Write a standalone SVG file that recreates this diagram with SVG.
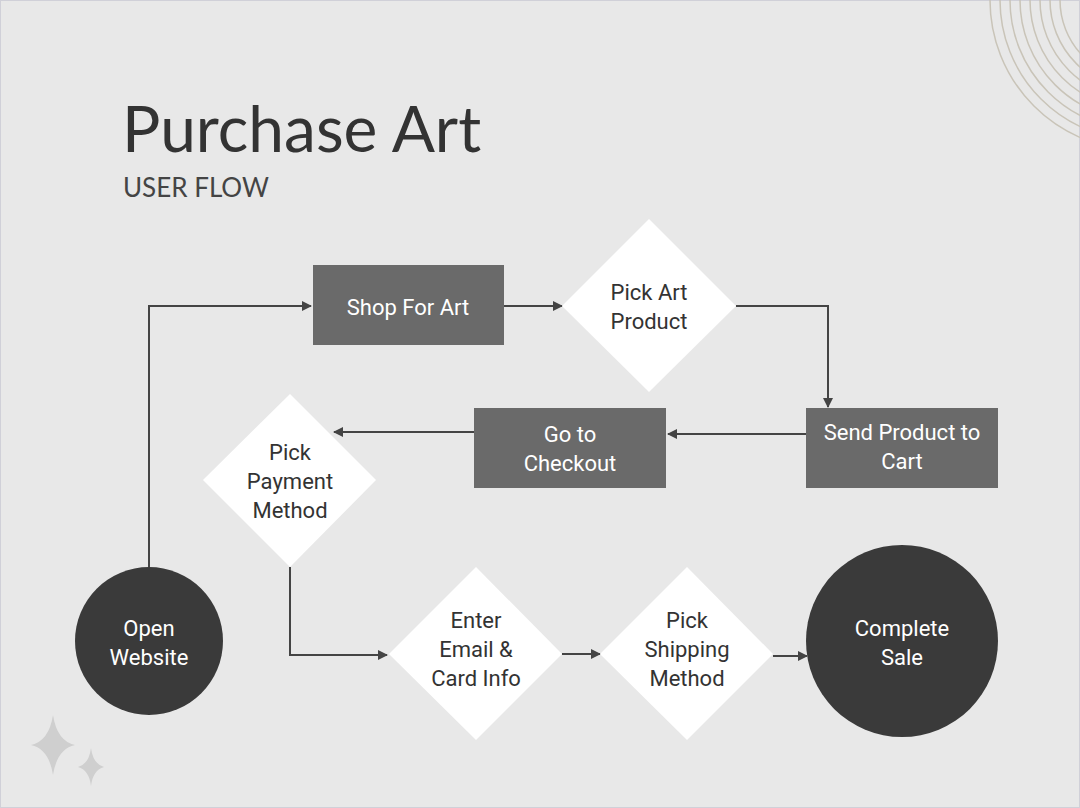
<svg xmlns="http://www.w3.org/2000/svg" width="1080" height="808" viewBox="0 0 1080 808">
<defs>
<style>
.box{fill:#6a6a6a}
.dia{fill:#ffffff}
.circ{fill:#3a3a3a}
.t{font-family:Roboto,"Liberation Sans",sans-serif;font-size:22px;text-anchor:middle}
.w{fill:#ffffff}
.d{fill:#333333}
.c{fill:none;stroke:#444;stroke-width:2}
.arc{fill:none;stroke:#c9c4b8;stroke-width:1.5}
</style>
<marker id="ah" viewBox="0 0 10 10" refX="9" refY="5" markerWidth="5" markerHeight="5" orient="auto"><path d="M0,0L10,5L0,10z" fill="#444"/></marker>
</defs>
<rect width="1080" height="808" fill="#e8e8e8"/>
<rect x="0.5" y="0.5" width="1079" height="807" fill="none" stroke="#d0d0d8"/>
<g id="deco">
<circle cx="1140" cy="0" r="150" class="arc"/>
<circle cx="1140" cy="0" r="140" class="arc"/>
<circle cx="1140" cy="0" r="130" class="arc"/>
<circle cx="1140" cy="0" r="120" class="arc"/>
<circle cx="1140" cy="0" r="110" class="arc"/>
<circle cx="1140" cy="0" r="100" class="arc"/>
<circle cx="1140" cy="0" r="90" class="arc"/>
<circle cx="1140" cy="0" r="80" class="arc"/>
<path d="M53,715 Q57,741 75,745 Q57,749 53,775 Q49,749 31,745 Q49,741 53,715z" fill="#cfcfcf"/>
<path d="M91,748 Q93,764 104,767 Q93,770 91,786 Q89,770 78,767 Q89,764 91,748z" fill="#cfcfcf"/>
</g>
<text x="122" y="152" font-family="Lato,'Liberation Sans',sans-serif" font-size="64" fill="#333">Purchase Art</text>
<text x="123" y="197" font-family="Lato,'Liberation Sans',sans-serif" font-size="26" fill="#444">USER FLOW</text>
<g id="connectors">
<path class="c" d="M149,567V306H311" marker-end="url(#ah)"/>
<path class="c" d="M504,306H562" marker-end="url(#ah)"/>
<path class="c" d="M736,306H828V407" marker-end="url(#ah)"/>
<path class="c" d="M806,434H668" marker-end="url(#ah)"/>
<path class="c" d="M474,432H334" marker-end="url(#ah)"/>
<path class="c" d="M290,567V655H387" marker-end="url(#ah)"/>
<path class="c" d="M562,654H600" marker-end="url(#ah)"/>
<path class="c" d="M773,656H807" marker-end="url(#ah)"/>
</g>
<g id="open"><circle cx="149" cy="641" r="74" class="circ"/><text class="t w" x="149" y="636">Open</text><text class="t w" x="149" y="665">Website</text></g>
<g id="shop"><rect x="313" y="265" width="191" height="80" class="box"/><text class="t w" x="408" y="315">Shop For Art</text></g>
<g id="pickart"><polygon points="649,219 736,306 649,392 562,306" class="dia"/><text class="t d" x="649" y="300">Pick Art</text><text class="t d" x="649" y="329">Product</text></g>
<g id="send"><rect x="806" y="408" width="192" height="80" class="box"/><text class="t w" x="902" y="440">Send Product to</text><text class="t w" x="902" y="469">Cart</text></g>
<g id="checkout"><rect x="474" y="408" width="192" height="80" class="box"/><text class="t w" x="570" y="442">Go to</text><text class="t w" x="570" y="471">Checkout</text></g>
<g id="payment"><polygon points="290,394 376,480 290,567 203,480" class="dia"/><text class="t d" x="290" y="460">Pick</text><text class="t d" x="290" y="489">Payment</text><text class="t d" x="290" y="518">Method</text></g>
<g id="email"><polygon points="476,567 562,654 476,740 389,654" class="dia"/><text class="t d" x="476" y="628">Enter</text><text class="t d" x="476" y="657">Email &amp;</text><text class="t d" x="476" y="686">Card Info</text></g>
<g id="shipping"><polygon points="687,567 773,654 687,740 600,654" class="dia"/><text class="t d" x="687" y="628">Pick</text><text class="t d" x="687" y="657">Shipping</text><text class="t d" x="687" y="686">Method</text></g>
<g id="complete"><circle cx="902" cy="641" r="96" class="circ"/><text class="t w" x="902" y="636">Complete</text><text class="t w" x="902" y="665">Sale</text></g>
</svg>
